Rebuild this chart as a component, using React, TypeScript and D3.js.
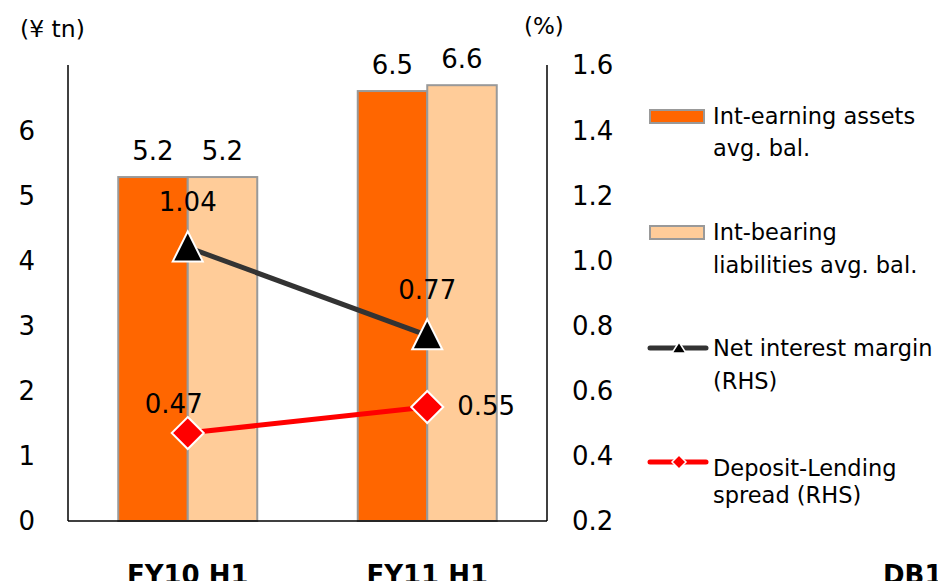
import React from "react";
import * as d3 from "d3";

const categories = ["FY10 H1", "FY11 H1"];
const assetsAvgBal = [5.28, 6.6];
const liabilitiesAvgBal = [5.28, 6.69];
const assetsLabels = ["5.2", "6.5"];
const liabilitiesLabels = ["5.2", "6.6"];
const netInterestMargin = [1.04, 0.77];
const depositLendingSpread = [0.47, 0.55];
const leftTicks = [0, 1, 2, 3, 4, 5, 6];
const rightTicks = [0.2, 0.4, 0.6, 0.8, 1.0, 1.2, 1.4, 1.6];

const W = 938;
const H = 581;
const FONT = "'DejaVu Sans', Verdana, sans-serif";

export default function App() {
  const x0 = 68, x1 = 547, yTop = 65, yBot = 521;
  const x = d3.scaleBand<string>().domain(categories).range([x0, x1]);
  const yL = d3.scaleLinear().domain([0, 7]).range([yBot, yTop]);
  const yR = d3.scaleLinear().domain([0.2, 1.6]).range([yBot, yTop]);
  const groupW = 139;
  const inner = d3.scaleBand<string>().domain(["a", "l"]).range([0, groupW]);
  const cx = (c: string) => (x(c) as number) + x.bandwidth() / 2;

  const line = d3.line<[number, number]>();
  const nimPts: [number, number][] = categories.map((c, i) => [cx(c), yR(netInterestMargin[i])]);
  const dlsPts: [number, number][] = categories.map((c, i) => [cx(c), yR(depositLendingSpread[i])]);

  const tri = (px: number, py: number, hw: number, up: number, dn: number) =>
    `M${px},${py - up}L${px + hw},${py + dn}L${px - hw},${py + dn}Z`;
  const dia = (px: number, py: number, r: number) =>
    `M${px},${py - r}L${px + r},${py}L${px},${py + r}L${px - r},${py}Z`;

  const series = [
    { vals: assetsAvgBal, labels: assetsLabels, key: "a", fill: "#FF6600" },
    { vals: liabilitiesAvgBal, labels: liabilitiesLabels, key: "l", fill: "#FFCC99" },
  ];

  return (
    <svg
      width={W}
      height={H}
      style={{ position: "absolute", left: 0, top: 0, background: "#fff" }}
      fontFamily={FONT}
    >
      <rect x={0} y={0} width={W} height={H} fill="#fff" />
      {/* bars */}
      {series.map((s) =>
        categories.map((c, i) => {
          const bx = cx(c) - groupW / 2 + (inner(s.key) as number);
          const by = yL(s.vals[i]);
          return (
            <g key={s.key + c}>
              <rect
                x={bx}
                y={by}
                width={inner.bandwidth()}
                height={yBot - by}
                fill={s.fill}
                stroke="#999999"
                strokeWidth={2}
              />
              <text
                x={bx + inner.bandwidth() / 2}
                y={by - 17}
                fontSize={26}
                textAnchor="middle"
                fill="#000"
              >
                {s.labels[i]}
              </text>
            </g>
          );
        })
      )}
      {/* axes */}
      <line x1={x0} x2={x0} y1={yTop} y2={yBot} stroke="#000" strokeWidth={1.5} />
      <line x1={x1} x2={x1} y1={yTop} y2={yBot} stroke="#000" strokeWidth={1.5} />
      <line x1={x0} x2={x1} y1={yBot} y2={yBot} stroke="#000" strokeWidth={1.5} />
      {leftTicks.map((t) => (
        <text key={"l" + t} x={35} y={yL(t)} dy="0.36em" fontSize={26} textAnchor="end">
          {d3.format("d")(t)}
        </text>
      ))}
      {rightTicks.map((t) => (
        <text key={"r" + t} x={572} y={yR(t)} dy="0.36em" fontSize={26} textAnchor="start">
          {d3.format(".1f")(t)}
        </text>
      ))}
      <text x={20} y={37} fontSize={23.5}>(¥ tn)</text>
      <text x={524} y={34} fontSize={23}>(%)</text>
      {categories.map((c) => (
        <text key={c} x={cx(c)} y={584} fontSize={26} fontWeight="bold" textAnchor="middle">
          {c}
        </text>
      ))}
      <text x={883} y={584} fontSize={26} fontWeight="bold">DB1</text>

      {/* lines */}
      <path d={line(nimPts) || ""} stroke="#333333" strokeWidth={5} fill="none" />
      <path d={line(dlsPts) || ""} stroke="#FF0000" strokeWidth={5} fill="none" />
      {nimPts.map(([px, py], i) => (
        <path key={"tm" + i} d={tri(px, py, 15, 16, 14)} fill="#000" stroke="#fff" strokeWidth={2} />
      ))}
      {dlsPts.map(([px, py], i) => (
        <path key={"dm" + i} d={dia(px, py, 16)} fill="#FF0000" stroke="#fff" strokeWidth={2} />
      ))}
      {nimPts.map(([px, py], i) => (
        <text key={"tl" + i} x={px} y={py - 36} fontSize={26} textAnchor="middle">
          {netInterestMargin[i].toFixed(2)}
        </text>
      ))}
      <text x={dlsPts[0][0] - 14} y={dlsPts[0][1] - 20} fontSize={26} textAnchor="middle">
        {depositLendingSpread[0].toFixed(2)}
      </text>
      <text x={dlsPts[1][0] + 30} y={dlsPts[1][1] + 8} fontSize={26} textAnchor="start">
        {depositLendingSpread[1].toFixed(2)}
      </text>

      {/* legend */}
      <g fontSize={22.5}>
        <rect x={650} y={110} width={54} height={13} fill="#FF6600" stroke="#999999" strokeWidth={2} />
        <text x={713} y={124}>Int-earning assets</text>
        <text x={713} y={156}>avg. bal.</text>

        <rect x={650} y={226} width={54} height={13} fill="#FFCC99" stroke="#999999" strokeWidth={2} />
        <text x={713} y={240}>Int-bearing</text>
        <text x={713} y={273}>liabilities avg. bal.</text>

        <line x1={650} x2={706} y1={348} y2={348} stroke="#333333" strokeWidth={5} strokeLinecap="round" />
        <path d={tri(679, 348, 7, 6, 5)} fill="#000" stroke="#fff" strokeWidth={1.5} />
        <text x={713} y={356}>Net interest margin</text>
        <text x={713} y={389}>(RHS)</text>

        <line x1={650} x2={706} y1={462} y2={462} stroke="#FF0000" strokeWidth={5} strokeLinecap="round" />
        <path d={dia(679, 462, 7)} fill="#FF0000" stroke="#fff" strokeWidth={1.5} />
        <text x={713} y={476}>Deposit-Lending</text>
        <text x={713} y={503}>spread (RHS)</text>
      </g>
    </svg>
  );
}
